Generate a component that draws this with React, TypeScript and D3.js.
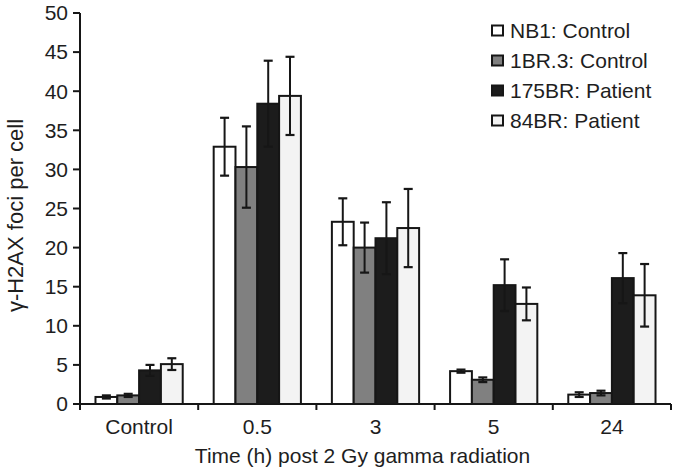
import React from "react";
import * as d3 from "d3";

const categories = ["Control", "0.5", "3", "5", "24"];
const seriesNames = ["NB1: Control", "1BR.3: Control", "175BR: Patient", "84BR: Patient"];
const seriesColors = ["#ffffff", "#808080", "#1c1c1c", "#f3f3f3"];
const nb1 = [0.9, 32.9, 23.3, 4.2, 1.2];
const nb1Err = [0.2, 3.7, 3.0, 0.2, 0.3];
const br13 = [1.1, 30.3, 20.0, 3.1, 1.4];
const br13Err = [0.2, 5.2, 3.2, 0.3, 0.3];
const br175 = [4.3, 38.4, 21.2, 15.2, 16.1];
const br175Err = [0.7, 5.5, 4.6, 3.3, 3.2];
const br84 = [5.1, 39.4, 22.5, 12.8, 13.9];
const br84Err = [0.75, 5.0, 5.0, 2.1, 4.0];
const yTicks = [0, 5, 10, 15, 20, 25, 30, 35, 40, 45, 50];

const values = [nb1, br13, br175, br84];
const errors = [nb1Err, br13Err, br175Err, br84Err];

const W = 673;
const H = 470;
const left = 80;
const right = 671;
const top = 13;
const bottom = 404;
const FONT = "'Liberation Sans', Arial, Helvetica, sans-serif";

export default function App() {
  const x0 = d3.scaleBand<string>().domain(categories).range([left, right]).padding(0);
  const x1 = d3
    .scaleBand<string>()
    .domain(seriesNames)
    .range([0, x0.bandwidth()])
    .paddingInner(0)
    .paddingOuter(0.71);
  const y = d3.scaleLinear().domain([0, 50]).range([bottom, top]);
  const ink = "#161616";
  const txt = "#1e1e1e";

  return (
    <div style={{ position: "absolute", left: 0, top: 0 }}>
      <svg width={W} height={H} style={{ display: "block", background: "#fff" }} fontFamily={FONT}>
        {/* bars */}
        {categories.map((c, ci) => (
          <g key={c} transform={`translate(${x0(c)},0)`}>
            {seriesNames.map((s, si) => {
              const v = values[si][ci];
              const e = errors[si][ci];
              const bx = x1(s)!;
              const bw = x1.bandwidth();
              const cx = bx + bw / 2;
              return (
                <g key={s}>
                  <rect
                    x={bx}
                    y={y(v)}
                    width={bw}
                    height={y(0) - y(v)}
                    fill={seriesColors[si]}
                    stroke={ink}
                    strokeWidth={2}
                  />
                  <line x1={cx} x2={cx} y1={y(v + e)} y2={y(v - e)} stroke={ink} strokeWidth={2} />
                  <line x1={cx - 4.5} x2={cx + 4.5} y1={y(v + e)} y2={y(v + e)} stroke={ink} strokeWidth={2.2} />
                  <line x1={cx - 4.5} x2={cx + 4.5} y1={y(v - e)} y2={y(v - e)} stroke={ink} strokeWidth={2.2} />
                </g>
              );
            })}
          </g>
        ))}

        {/* y axis */}
        <line x1={left} x2={left} y1={top} y2={bottom + 6} stroke={ink} strokeWidth={2} />
        {yTicks.map((t) => (
          <g key={t}>
            <line x1={left - 7} x2={left} y1={y(t)} y2={y(t)} stroke={ink} strokeWidth={2} />
            <text x={left - 12} y={y(t)} dy="0.35em" textAnchor="end" fontSize={21} fill={txt}>
              {t}
            </text>
          </g>
        ))}

        {/* x axis */}
        <line x1={left} x2={right} y1={bottom} y2={bottom} stroke={ink} strokeWidth={2} />
        {categories.map((c) => (
          <line
            key={"t" + c}
            x1={x0(c)! + x0.bandwidth()}
            x2={x0(c)! + x0.bandwidth()}
            y1={bottom}
            y2={bottom + 6}
            stroke={ink}
            strokeWidth={2}
          />
        ))}
        {categories.map((c) => (
          <text
            key={"l" + c}
            x={x0(c)! + x0.bandwidth() / 2}
            y={434}
            textAnchor="middle"
            fontSize={21}
            fill={txt}
          >
            {c}
          </text>
        ))}
        <text x={(left + right) / 2 - 13} y={463} textAnchor="middle" fontSize={21} fill={txt}>
          Time (h) post 2 Gy gamma radiation
        </text>

        {/* y label */}
        <text
          transform={`translate(23,${(108 + 323) / 2}) rotate(-90)`}
          textAnchor="middle"
          fontSize={22}
          fill={txt}
        >
          γ-H2AX foci per cell
        </text>

        {/* legend */}
        {seriesNames.map((s, i) => (
          <g key={"lg" + s} transform={`translate(492,${30.5 + i * 30})`}>
            <rect x={0} y={-5} width={11} height={10} fill={seriesColors[i]} stroke={ink} strokeWidth={2} />
            <text x={18} y={0} dy="0.35em" fontSize={21} fill={txt}>
              {s}
            </text>
          </g>
        ))}
      </svg>
    </div>
  );
}
